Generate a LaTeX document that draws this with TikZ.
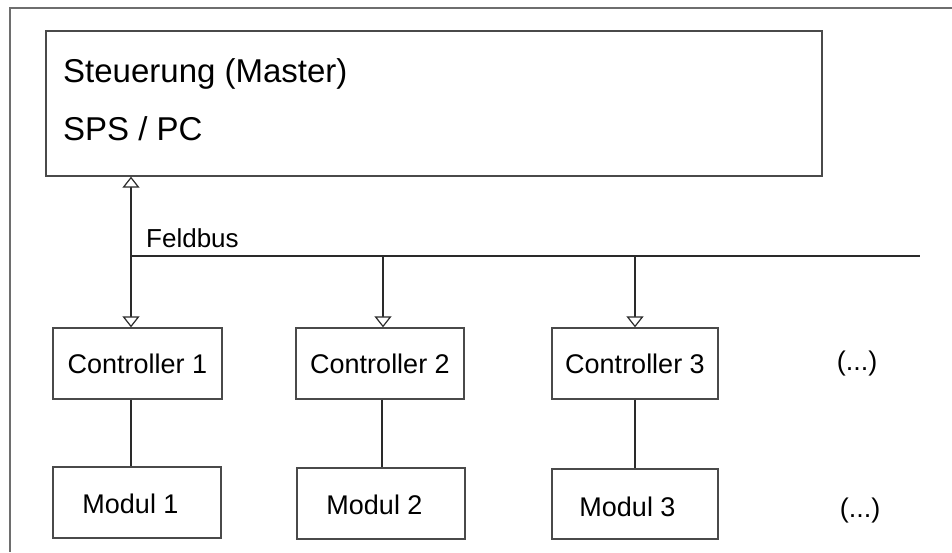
\documentclass[tikz,border=0pt]{standalone}
\usepackage{fontspec}
\setmainfont{Liberation Sans}
\usetikzlibrary{arrows.meta}
\definecolor{framegray}{HTML}{6E6E6E}
\definecolor{boxgray}{HTML}{4A4A4A}
\definecolor{linegray}{HTML}{2A2A2A}
\tikzset{
  unitbox/.style={draw=boxgray, line width=1.3pt, fill=white, inner sep=0pt,
    minimum width=168pt, minimum height=71pt,
    font=\fontsize{27}{32}\selectfont},
  mastertext/.style={anchor=base west, inner sep=0pt,
    font=\fontsize{33}{38}\selectfont},
  smalltext/.style={inner sep=0pt, font=\fontsize{27}{32}\selectfont},
  link/.style={draw=linegray, line width=1.2pt},
  opentip/.style={-{Triangle[open, length=11pt, width=17pt, fill=white]}},
  bothtips/.style={{Triangle[open, length=11pt, width=17pt, fill=white]}-{Triangle[open, length=11pt, width=17pt, fill=white]}},
}
\begin{document}
\begin{tikzpicture}[x=1pt, y=-1pt]
\useasboundingbox (0,0) rectangle (952,552);

% outer frame (top and left edges)
\draw[framegray, line width=1.5pt] (952,8) -- (10,8) -- (10,552);

% master controller
\node[draw=boxgray, line width=1.3pt, minimum width=776pt, minimum height=145pt, inner sep=0pt]
  (master) at (434,103.5) {};
\node[mastertext] (mastertitle) at (63,82) {Steuerung (Master)};
\node[mastertext] (mastersub) at (63,140) {SPS / PC};

% controllers
\node[unitbox, minimum width=169pt] (ctl1) at (137.5,363.5) {Controller 1};
\node[unitbox] (ctl2) at (380,363.5) {Controller 2};
\node[unitbox, minimum width=166pt] (ctl3) at (635,363.5) {Controller 3};

% modules
\node[unitbox, label={[smalltext, xshift=-6.5pt, yshift=-1pt]center:Modul 1}] (mod1) at (137,502.5) {};
\node[unitbox, label={[smalltext, xshift=-6.5pt, yshift=-1pt]center:Modul 2}] (mod2) at (381,503.5) {};
\node[unitbox, minimum width=166pt, minimum height=70pt,
  label={[smalltext, xshift=-7.5pt, yshift=-2.5pt]center:Modul 3}] (mod3) at (635,504) {};

% continuation marks
\node[smalltext] (moreCtl) at (857,364) {(...)};
\node[smalltext] (moreMod) at (860,511) {(...)};

% field bus
\coordinate (busL) at (131,256);
\coordinate (busR) at (920,256);
\coordinate (col1) at (131,0);
\coordinate (col2) at (383,0);
\coordinate (col3) at (635,0);
\draw[link] (busL) -- (busR);
\node[smalltext, font=\fontsize{26}{31}\selectfont, anchor=base west] (buslabel) at (146,247) {Feldbus};

% bus connections
\draw[link, bothtips] (col1 |- master.south) -- (col1 |- ctl1.north);
\draw[link, opentip] (col2 |- busL) -- (col2 |- ctl2.north);
\draw[link, opentip] (col3 |- busL) -- (col3 |- ctl3.north);

% controller to module links
\draw[link] (col1 |- ctl1.south) -- (col1 |- mod1.north);
\draw[link] (382,0 |- ctl2.south) -- (382,0 |- mod2.north);
\draw[link] (col3 |- ctl3.south) -- (col3 |- mod3.north);
\end{tikzpicture}
\end{document}
